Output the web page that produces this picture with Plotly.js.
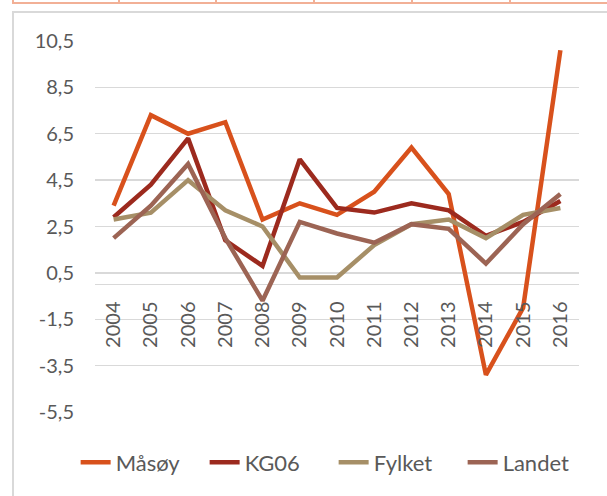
<!DOCTYPE html>
<html>
<head>
<meta charset="utf-8">
<script src="https://cdn.plot.ly/plotly-3.0.1.min.js"></script>
<style>
  html, body { margin: 0; padding: 0; background: #ffffff; }
  #wrap { position: relative; width: 607px; height: 496px; overflow: hidden; }
  #frame { position: absolute; left: 12px; top: 11px; width: 700px; height: 600px;
           border-left: 2px solid #D9D9D9; border-top: 2px solid #D9D9D9; }
  #strip { position: absolute; left: 12px; top: 2px; width: 700px; height: 0;
           border-top: 2px solid #F2B096; }
  .tick { position: absolute; top: 0; width: 2px; height: 3px; background: #F2B096; }
  #chart { position: absolute; left: 0; top: 0; width: 607px; height: 496px; }
</style>
</head>
<body>
<div id="wrap">
  <div id="frame"></div>
  <div id="strip"></div>
  <div class="tick" style="left:12px"></div>
  <div class="tick" style="left:118px"></div>
  <div class="tick" style="left:215px"></div>
  <div class="tick" style="left:313px"></div>
  <div class="tick" style="left:411px"></div>
  <div class="tick" style="left:509px"></div>
  <div id="chart"></div>
</div>
<script>
const years = ["2004","2005","2006","2007","2008","2009","2010","2011","2012","2013","2014","2015","2016"];
const seriesNames = ["Måsøy", "KG06", "Fylket", "Landet"];
const masoy  = [3.4, 7.3, 6.5, 7.0, 2.8, 3.5, 3.0, 4.0, 5.9, 3.9, -3.9, -1.0, 10.1];
const kg06   = [2.9, 4.3, 6.3, 1.9, 0.8, 5.4, 3.3, 3.1, 3.5, 3.2, 2.1, 2.7, 3.6];
const fylket = [2.8, 3.1, 4.5, 3.2, 2.5, 0.3, 0.3, 1.7, 2.6, 2.8, 2.0, 3.0, 3.3];
const landet = [2.0, 3.4, 5.2, 2.0, -0.7, 2.7, 2.2, 1.8, 2.6, 2.4, 0.9, 2.6, 3.9];
const yTickVals = [10.5, 8.5, 6.5, 4.5, 2.5, 0.5, -1.5, -3.5, -5.5];
const yTickText = ["10,5", "8,5", "6,5", "4,5", "2,5", "0,5", "-1,5", "-3,5", "-5,5"];

const colors = ["#D8511C", "#9C2A1E", "#A68F67", "#9C6454"];
const values = [masoy, kg06, fylket, landet];

const traces = values.map((v, i) => ({
  type: "scatter",
  mode: "lines",
  x: years,
  y: v,
  name: seriesNames[i],
  line: { color: colors[i], width: 4.5 },
  hoverinfo: "skip"
}));

const yMin = -5.5, yMax = 10.5;
const layout = {
  width: 607,
  height: 496,
  paper_bgcolor: "rgba(0,0,0,0)",
  plot_bgcolor: "rgba(0,0,0,0)",
  margin: { l: 95, r: 28, t: 41, b: 84 },
  font: { family: "Lato, 'Open Sans', sans-serif", color: "#595959", size: 20 },
  showlegend: true,
  legend: {
    orientation: "h",
    x: -0.04, xanchor: "left",
    y: -0.136, yanchor: "middle",
    font: { size: 22, color: "#595959" },
    itemwidth: 30,
    entrywidth: 84,
    entrywidthmode: "pixels",
    traceorder: "normal"
  },
  xaxis: {
    type: "category",
    range: [-0.5, 12.5],
    anchor: "free",
    position: (0 - yMin) / (yMax - yMin),
    showgrid: false,
    showline: false,
    zeroline: false,
    ticks: "",
    tickangle: -90,
    ticklabelstandoff: 12,
    tickfont: { size: 20, color: "#595959" }
  },
  yaxis: {
    range: [yMin, yMax],
    tickvals: yTickVals,
    ticktext: yTickText,
    showgrid: true,
    gridcolor: "#D9D9D9",
    gridwidth: 1.3,
    zeroline: true,
    zerolinecolor: "#D9D9D9",
    zerolinewidth: 1.3,
    showline: false,
    ticks: "",
    ticklabelstandoff: 20,
    tickfont: { size: 20, color: "#595959" }
  }
};

Plotly.newPlot("chart", traces, layout, { staticPlot: true, displayModeBar: false });
</script>
</body>
</html>
